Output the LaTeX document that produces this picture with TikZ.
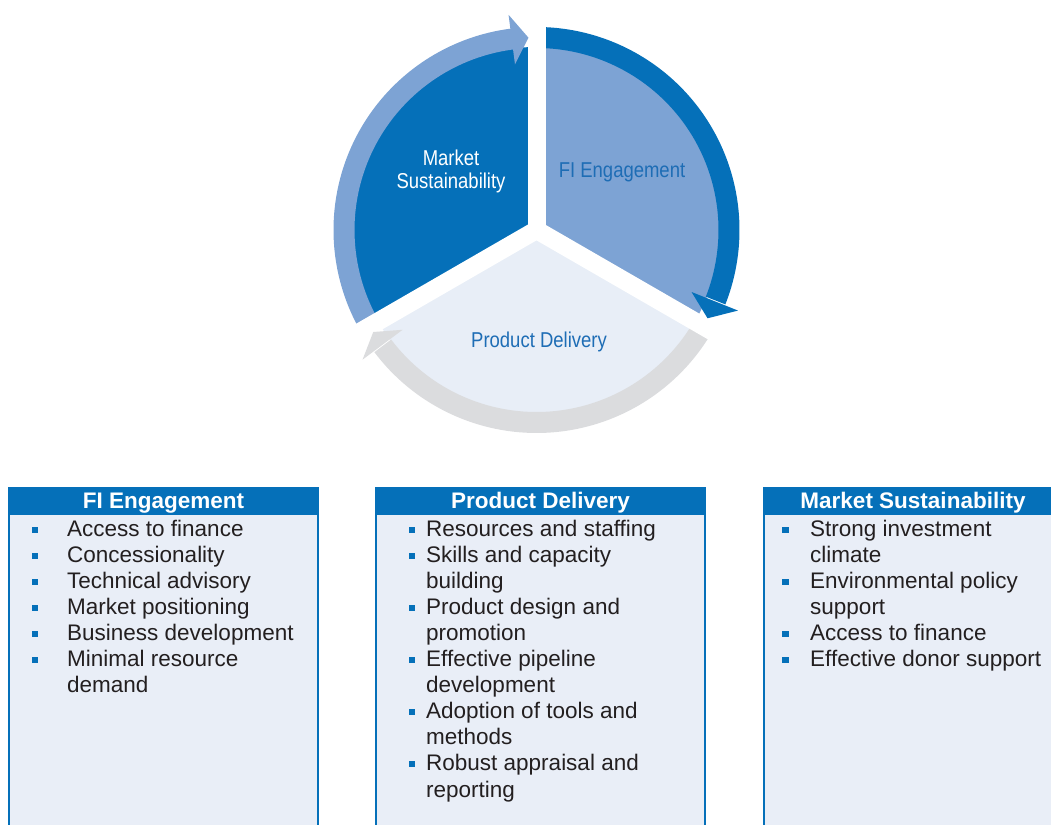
\documentclass[tikz,border=0pt]{standalone}
\usepackage{fontspec}
\setmainfont{Liberation Sans}
\newfontfamily\narrowfont{Liberation Sans}[FakeStretch=0.86]
\definecolor{cycdark}{HTML}{0570B9}
\definecolor{cyclight}{HTML}{7DA3D4}
\definecolor{cycpale}{HTML}{E8EEF7}
\definecolor{cycgrey}{HTML}{DBDCDE}
\definecolor{boxfill}{HTML}{E9EEF7}
\definecolor{labelblue}{HTML}{1E6DB5}
\definecolor{itemtext}{HTML}{231F20}
\tikzset{
  pielabel/.style={font=\narrowfont\fontsize{21.5}{24}\selectfont, anchor=base, inner sep=0pt},
  listbox/.style={fill=boxfill, draw=cycdark, line width=2pt, anchor=north west,
    minimum height=420pt, inner sep=0pt},
  boxhead/.style={fill=cycdark, text=white, font=\bfseries\fontsize{22.5}{26}\selectfont,
    minimum height=28pt, text height=18pt, text depth=3pt, anchor=north west,
    inner sep=0pt, outer sep=0pt},
  item/.style={text=itemtext, font=\fontsize{22.5}{26}\selectfont, anchor=base west, inner sep=0pt},
  bullet/.style={fill=cycdark, minimum size=6.5pt, inner sep=0pt}
}
\begin{document}
\begin{tikzpicture}[x=1pt, y=1pt]
  \useasboundingbox (0,0) rectangle (1051,824);
  \clip (0,0) rectangle (1051,824);

  %% the cycle
  \begin{scope}[shift={(536.5,594)}]
    \newcommand\Rs{183pt};
    \newcommand\Rin{182pt};
    \newcommand\Rout{203pt};

    \fill[cycdark](0,0) -- (90:\Rs) arc[start angle=90, end angle=210, radius=\Rs] -- cycle;
    \fill[cyclight](0,0) -- (-30:\Rs) arc[start angle=-30, end angle=90, radius=\Rs] -- cycle;
    \fill[cycpale](0,0) -- (210:\Rs) arc[start angle=210, end angle=330, radius=\Rs] -- cycle;

    %% arrow bodies
    \fill[cyclight](210:\Rout) arc[start angle=210, end angle=97, radius=\Rout]
      -- (97:\Rin) arc[start angle=97, end angle=210, radius=\Rin] -- cycle;
    \fill[cycdark](90:\Rout) arc[start angle=90, end angle=-21.5, radius=\Rout]
      -- (-21.5:\Rin) arc[start angle=-21.5, end angle=90, radius=\Rin] -- cycle;
    \fill[cycgrey](-30:\Rout) arc[start angle=-30, end angle=-143, radius=\Rout]
      -- (-143:\Rin) arc[start angle=-143, end angle=-30, radius=\Rin] -- cycle;

    %% white gaps between the parts
    \foreach \a in {90,210,330}
      \draw[white, line width=18pt](0,0) -- (\a:212pt);

    %% arrow heads
    \fill[cyclight](97.4:167pt) -- (92.4:192.5pt) -- (97.4:217pt) -- cycle;
    \fill[cycdark](-21.8:167pt) -- (-27.3:192.5pt) -- (-21.8:217pt) -- cycle;
    \fill[cycgrey](216.7:167pt) -- (212:192.5pt) -- (216.7:217pt) -- cycle;
  \end{scope}

  \node[pielabel, text=white] (mkt) at (451,658) {Market};
  \node[pielabel, text=white] (sust) at (451,635) {Sustainability};
  \node[pielabel, text=labelblue] (fie) at (622,646) {FI Engagement};
  \node[pielabel, text=labelblue] (pdl) at (539,476) {Product Delivery};

  %% the three lists
  \node[listbox, minimum width=309pt] (fibox) at (8,337) {};
  \node[boxhead, minimum width=311pt] (fihead) at (8,337) {FI Engagement};
  \node[listbox, minimum width=329pt] (pdbox) at (375,337) {};
  \node[boxhead, minimum width=331pt] (pdhead) at (375,337) {Product Delivery};
  \node[listbox, minimum width=400pt] (msbox) at (763,337) {};
  \node[boxhead, minimum width=400pt] (mshead) at (763,337) {};
  \node[boxhead, anchor=north, inner sep=0pt] (mstitle) at (913,337) {Market Sustainability};

  \foreach \hasb/\txt [count=\n] in {1/Access to finance, 1/Concessionality,
      1/Technical advisory, 1/Market positioning, 1/Business development,
      1/Minimal resource, 0/demand}{
    \node[item] (fi\n) at (67, {287-(\n-1)*26}) {\txt};
    \ifnum\hasb=1 \node[bullet] (fib\n) at ([xshift=-32pt, yshift=7pt]fi\n.base west) {};\fi
  }

  \foreach \hasb/\txt [count=\n] in {1/Resources and staffing, 1/Skills and capacity,
      0/building, 1/Product design and, 0/promotion, 1/Effective pipeline,
      0/development, 1/Adoption of tools and, 0/methods, 1/Robust appraisal and,
      0/reporting}{
    \node[item] (pd\n) at (426, {287-(\n-1)*26}) {\txt};
    \ifnum\hasb=1 \node[bullet] (pdb\n) at ([xshift=-14pt, yshift=7pt]pd\n.base west) {};\fi
  }

  \foreach \hasb/\txt [count=\n] in {1/Strong investment, 0/climate,
      1/Environmental policy, 0/support, 1/Access to finance,
      1/Effective donor support}{
    \node[item] (ms\n) at (810, {287-(\n-1)*26}) {\txt};
    \ifnum\hasb=1 \node[bullet] (msb\n) at ([xshift=-24.5pt, yshift=7pt]ms\n.base west) {};\fi
  }
\end{tikzpicture}
\end{document}
